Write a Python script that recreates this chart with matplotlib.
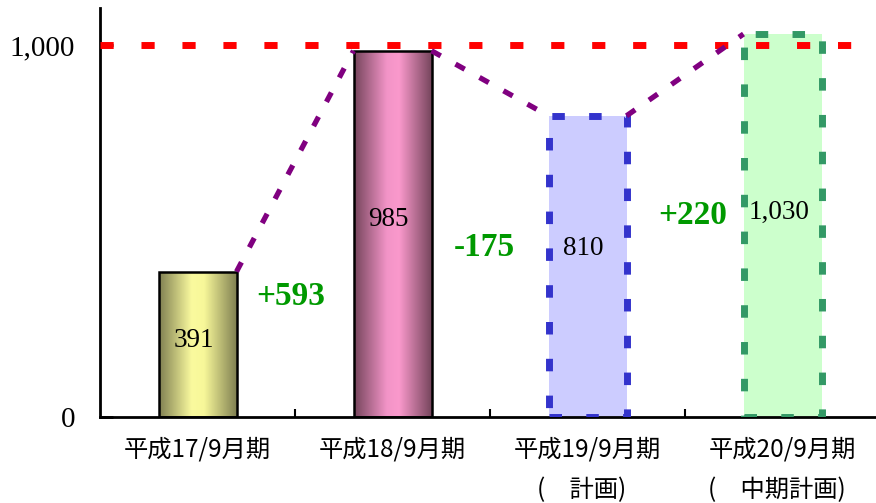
import numpy as np
import matplotlib
matplotlib.use("Agg")
import matplotlib.pyplot as plt
from matplotlib.patches import Rectangle
from matplotlib.colors import LinearSegmentedColormap

# ---- data ----
categories = ["平成17/9月期", "平成18/9月期", "平成19/9月期", "平成20/9月期"]
sublabels = ["", "", "(　計画)", "(　中期計画)"]
values = [391, 985, 810, 1030]
value_labels = ["391", "985", "810", "1,030"]
diff_labels = ["+593", "-175", "+220"]
target = 1000
yticks = [0, 1000]
ytick_labels = ["0", "1,000"]

# ---- layout / style ----
label_y = [207, 530, 454, 551]
diff_pos = [(0.48, 325), (1.47, 457), (2.54, 543)]
bar_w = 0.40
XMAX = -0.5 + 776 / 195

W, H, DPI = 876, 503, 100
fig = plt.figure(figsize=(W / DPI, H / DPI), dpi=DPI)
ax = fig.add_axes([100 / W, (H - 417) / H, (W - 100) / W, (417 - 8) / H])

serif = ["Liberation Serif", "DejaVu Serif"]
cjk = ["Noto Sans CJK JP", "DejaVu Sans"]

x = np.arange(len(values))

# gradient bars (1, 2)
grads = [
    [(0.50, 0.50, 0.32), (0.98, 0.98, 0.62), (0.97, 0.97, 0.60), (0.50, 0.50, 0.32)],
    [(0.46, 0.27, 0.36), (0.95, 0.58, 0.78), (0.98, 0.60, 0.80), (0.46, 0.27, 0.36)],
]
for i in range(2):
    cmap = LinearSegmentedColormap.from_list(f"g{i}", list(zip([0, 0.42, 0.58, 1], grads[i])))
    x0 = x[i] - bar_w / 2
    rect = Rectangle((x0, 0), bar_w, values[i], facecolor="none", edgecolor="black",
                     linewidth=1.8, zorder=3)
    ax.add_patch(rect)
    grad = np.linspace(0, 1, 256).reshape(1, -1)
    im = ax.imshow(grad, cmap=cmap, extent=[x0, x0 + bar_w, 0, values[i]],
                   aspect="auto", zorder=2, interpolation="bicubic")
    im.set_clip_path(rect)

# dashed-outline bars (3, 4)
flat = [("#ccccff", "#3333cc"), ("#ccffcc", "#339966")]
for j, (fc, ec) in enumerate(flat):
    i = j + 2
    ax.bar(x[i], values[i], width=bar_w, color=fc, edgecolor="none", zorder=2)
    r = Rectangle((x[i] - bar_w / 2, 0), bar_w, values[i], facecolor="none",
                  edgecolor=ec, linewidth=5, linestyle=(0, (1.8, 3.5)), zorder=3,
                  capstyle="butt", joinstyle="miter")
    ax.add_patch(r)

ax.set_xlim(-0.5, XMAX)
ax.set_ylim(0, 1100)

# target line
ax.axhline(target, color="red", linewidth=5, linestyle=(0, (1.9, 4.0)), zorder=4,
           dash_capstyle="butt")

# connector lines
for i in range(len(values) - 1):
    ax.plot([x[i] + bar_w / 2, x[i + 1] - bar_w / 2], [values[i], values[i + 1]],
            color="#800080", linewidth=3.8, linestyle=(0, (2.0, 3.2)),
            dash_capstyle="butt", zorder=5)

# value labels
for i in range(len(values)):
    ax.text(x[i] - 0.02, label_y[i], value_labels[i], ha="center", va="center",
            fontsize=19.5, family=serif, color="black", zorder=6)

# diff labels
for (dx, dy), t in zip(diff_pos, diff_labels):
    ax.text(dx, dy, t, ha="center", va="center", fontsize=24, fontweight="bold",
            family=serif, color="#009900", zorder=6)

# axes styling
for s in ["top", "right"]:
    ax.spines[s].set_visible(False)
for s in ["left", "bottom"]:
    ax.spines[s].set_linewidth(2)
    ax.spines[s].set_color("black")

ax.set_yticks(yticks)
ax.set_yticklabels(ytick_labels, family=serif, fontsize=21)
ax.tick_params(axis="y", direction="in", length=9, width=2, pad=18)

ax.set_xticks([0.5, 1.5, 2.5])
ax.set_xticklabels([])
ax.tick_params(axis="x", direction="in", length=6, width=1.5)

for i in range(len(categories)):
    ax.text(x[i], -87, categories[i], ha="center", va="center", fontsize=17.5,
            family=cjk, clip_on=False)
    if sublabels[i]:
        ax.text(x[i] - 0.03, -197, sublabels[i], ha="center", va="center",
                fontsize=17.5, family=cjk, clip_on=False)

fig.savefig("out.png", dpi=DPI)
